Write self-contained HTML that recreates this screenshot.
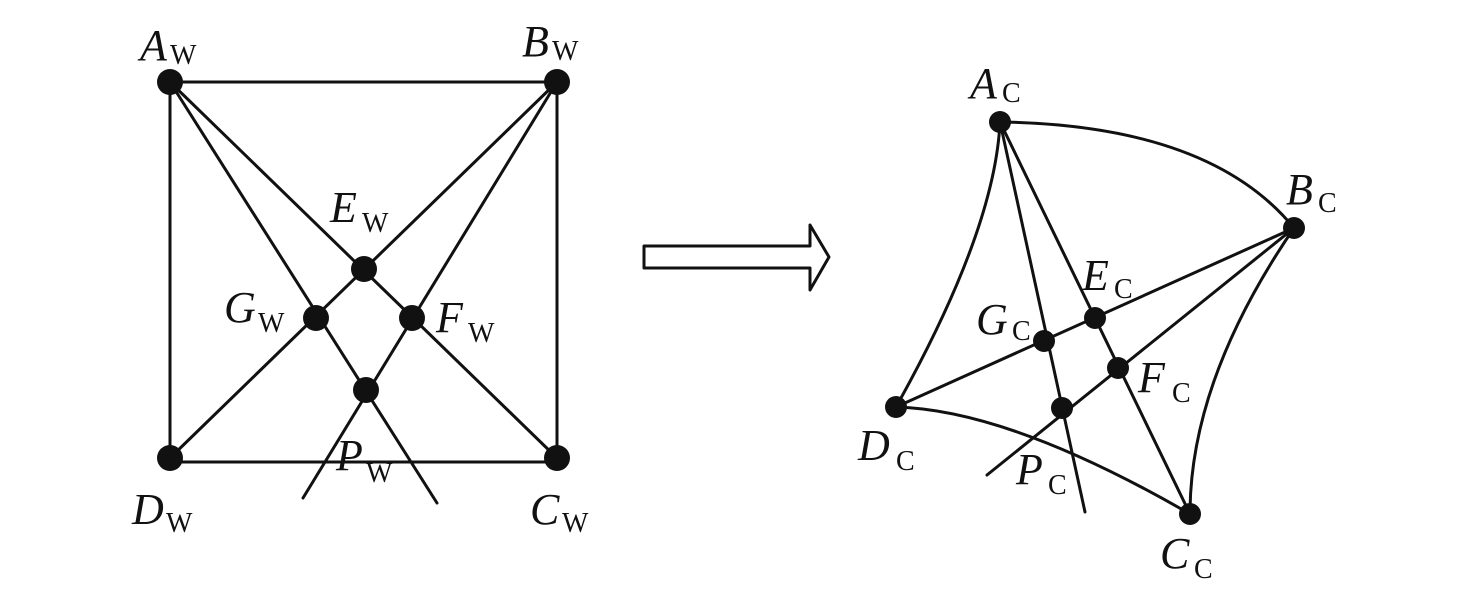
<!DOCTYPE html>
<html><head><meta charset="utf-8"><style>
html,body{margin:0;padding:0;background:#fff;}
svg{display:block}
text{font-family:"Liberation Serif",serif;fill:#111}
.m{font-style:italic;font-size:44px}
.s{font-size:28px}
</style></head><body>
<svg width="1476" height="604" viewBox="0 0 1476 604" xmlns="http://www.w3.org/2000/svg">
<g stroke="#111" stroke-width="3" fill="none" stroke-linecap="round">
<rect x="170" y="82" width="387" height="380"/>
<line x1="170" y1="82" x2="557" y2="458"/>
<line x1="557" y1="82" x2="170" y2="458"/>
<line x1="170" y1="82" x2="437" y2="503"/>
<line x1="557" y1="82" x2="303" y2="498"/>
<path d="M644 246 H810 V225 L829 257 L810 290 V268 H644 Z" stroke-linejoin="round"/>
<path d="M1000 122 Q1210 125 1294 228"/>
<path d="M1294 228 Q1190 380 1190 514"/>
<path d="M1000 122 Q995 230 896 407"/>
<path d="M896 407 Q1010 410 1190 514"/>
<line x1="896" y1="407" x2="1294" y2="228"/>
<line x1="1294" y1="228" x2="987" y2="475"/>
<line x1="1000" y1="122" x2="1085" y2="512"/>
<line x1="1000" y1="122" x2="1190" y2="514"/>
</g>
<g fill="#111">
<circle cx="170" cy="82" r="13"/><circle cx="557" cy="82" r="13"/>
<circle cx="170" cy="458" r="13"/><circle cx="557" cy="458" r="13"/>
<circle cx="364" cy="269" r="13"/><circle cx="316" cy="318" r="13"/>
<circle cx="412" cy="318" r="13"/><circle cx="366" cy="390" r="13"/>
<circle cx="1000" cy="122" r="11"/><circle cx="1294" cy="228" r="11"/>
<circle cx="896" cy="407" r="11"/><circle cx="1190" cy="514" r="11"/>
<circle cx="1095" cy="318" r="11"/><circle cx="1044" cy="341" r="11"/>
<circle cx="1118" cy="368" r="11"/><circle cx="1062" cy="408" r="11"/>
</g>
<text class="m" x="140" y="60">A</text><text class="s" x="170" y="64">W</text>
<text class="m" x="522" y="56">B</text><text class="s" x="552" y="60">W</text>
<text class="m" x="330" y="222">E</text><text class="s" x="362" y="232">W</text>
<text class="m" x="224" y="322">G</text><text class="s" x="258" y="332">W</text>
<text class="m" x="436" y="332">F</text><text class="s" x="468" y="342">W</text>
<text class="m" x="336" y="470">P</text><text class="s" x="366" y="482">W</text>
<text class="m" x="132" y="524">D</text><text class="s" x="166" y="532">W</text>
<text class="m" x="530" y="524">C</text><text class="s" x="562" y="532">W</text>
<text class="m" x="970" y="98">A</text><text class="s" x="1002" y="102">C</text>
<text class="m" x="1286" y="204">B</text><text class="s" x="1318" y="212">C</text>
<text class="m" x="1082" y="290">E</text><text class="s" x="1114" y="298">C</text>
<text class="m" x="976" y="334">G</text><text class="s" x="1012" y="340">C</text>
<text class="m" x="1138" y="392">F</text><text class="s" x="1172" y="402">C</text>
<text class="m" x="1016" y="484">P</text><text class="s" x="1048" y="494">C</text>
<text class="m" x="858" y="460">D</text><text class="s" x="896" y="470">C</text>
<text class="m" x="1160" y="568">C</text><text class="s" x="1194" y="578">C</text>
</svg>
</body></html>
